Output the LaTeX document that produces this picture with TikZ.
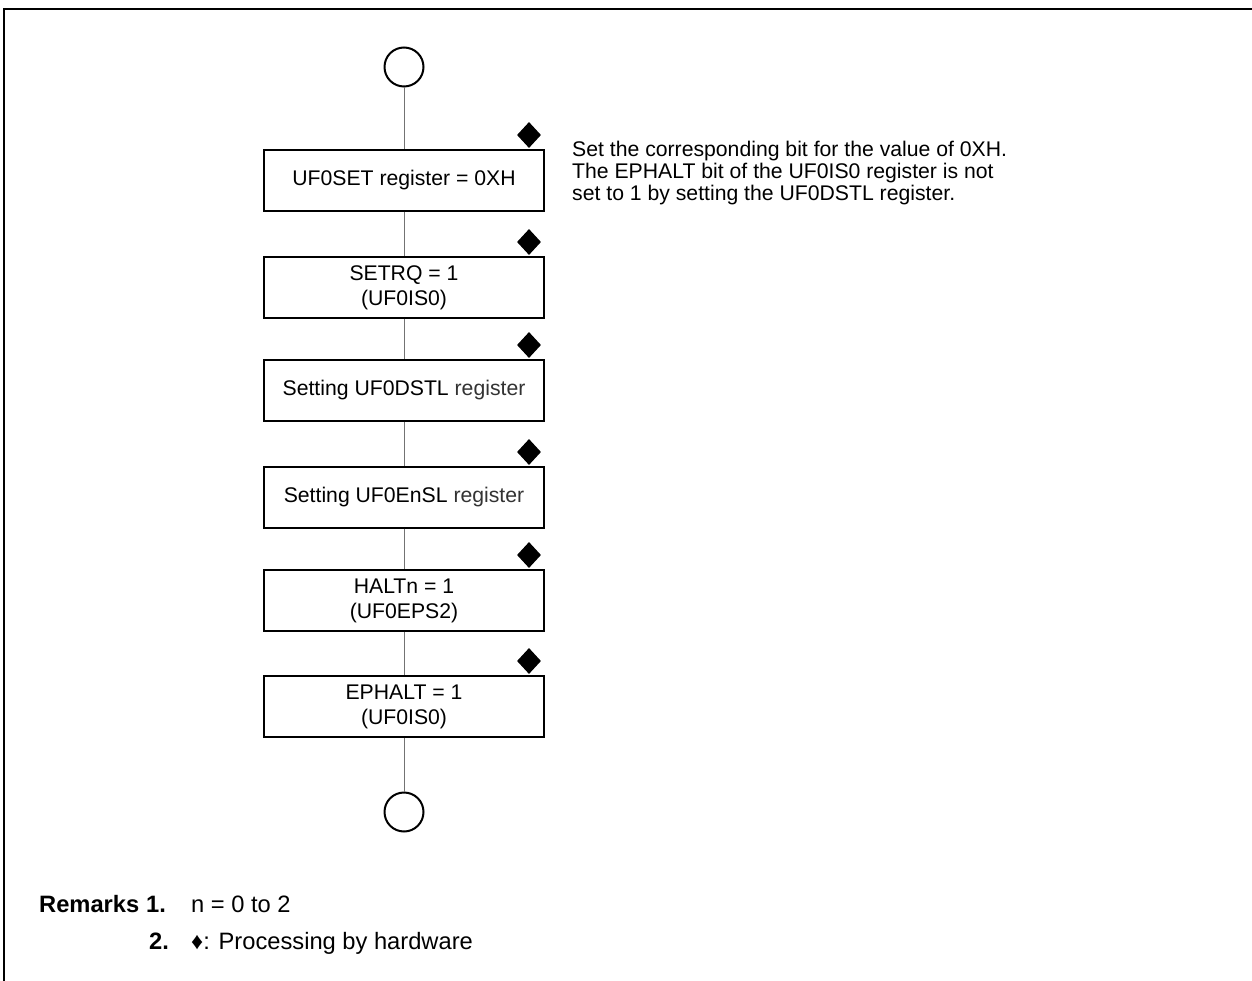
\documentclass[tikz,border=0pt]{standalone}
\usepackage{fontspec}
\setmainfont{Liberation Sans}
\usetikzlibrary{shapes.geometric}
\begin{document}
\begin{tikzpicture}[x=1pt,y=-1pt,
  stepbox/.style={draw=black, line width=2pt, minimum width=280pt, minimum height=61pt, inner sep=0pt, align=center, font=\fontsize{21.2}{25}\selectfont},
  term/.style={circle, draw=black, line width=2pt, minimum size=39pt, inner sep=0pt},
  hw/.style={diamond, fill=black, minimum width=24pt, minimum height=26pt, inner sep=0pt},
  flow/.style={draw=black!55, line width=1pt},
  txt/.style={inner sep=0pt, font=\fontsize{21.2}{22}\selectfont},
  rtxt/.style={inner sep=0pt, font=\fontsize{23.7}{26}\selectfont},
  btxt/.style={inner sep=0pt, font=\fontsize{23.7}{26}\selectfont\bfseries}]
\useasboundingbox (0,0) rectangle (1252,981);
\fill[white] (0,0) rectangle (1252,981);
\draw[line width=2pt] (1252,9) -- (4,9) -- (4,981);

\node[term] (start) at (404,67) {};
\node[stepbox] (b1) at (404,180.5) {UF0SET register = 0XH};
\node[stepbox] (b2) at (404,287.5) {SETRQ = 1\\(UF0IS0)};
\node[stepbox] (b3) at (404,390.5) {Setting UF0DSTL {\color{black!80}register}};
\node[stepbox] (b4) at (404,497) {Setting UF0EnSL {\color{black!80}register}};
\node[stepbox] (b5) at (404,600.5) {HALTn = 1\\(UF0EPS2)};
\node[stepbox] (b6) at (404,706.5) {EPHALT = 1\\(UF0IS0)};
\node[term] (end) at (404,812) {};

\draw[flow] (start) -- (b1);
\draw[flow] (b1) -- (b2);
\draw[flow] (b2) -- (b3);
\draw[flow] (b3) -- (b4);
\draw[flow] (b4) -- (b5);
\draw[flow] (b5) -- (b6);
\draw[flow] (b6) -- (end);

\node[hw] (d1) at (529,135) {};
\node[hw] (d2) at (529,242) {};
\node[hw] (d3) at (529,345) {};
\node[hw] (d4) at (529,452) {};
\node[hw] (d5) at (529,555) {};
\node[hw] (d6) at (529,661) {};

\node[txt, anchor=base west] (n1) at (572,157) {Set the corresponding bit for the value of 0XH.};
\node[txt, anchor=base west] (n2) at (572,179) {The EPHALT bit of the UF0IS0 register is not};
\node[txt, anchor=base west] (n3) at (572,201) {set to 1 by setting the UF0DSTL register.};

\node[btxt, anchor=base west] (rem) at (39,912) {Remarks};
\node[btxt, anchor=base west] (r1) at (146,912) {1.};
\node[rtxt, anchor=base west] (r1t) at (191,912) {n = 0 to 2};
\node[btxt, anchor=base west] (r2) at (149,949) {2.};
\node[rtxt, anchor=base west] (r2t) at (191,949) {♦: Processing by hardware};
\end{tikzpicture}
\end{document}
